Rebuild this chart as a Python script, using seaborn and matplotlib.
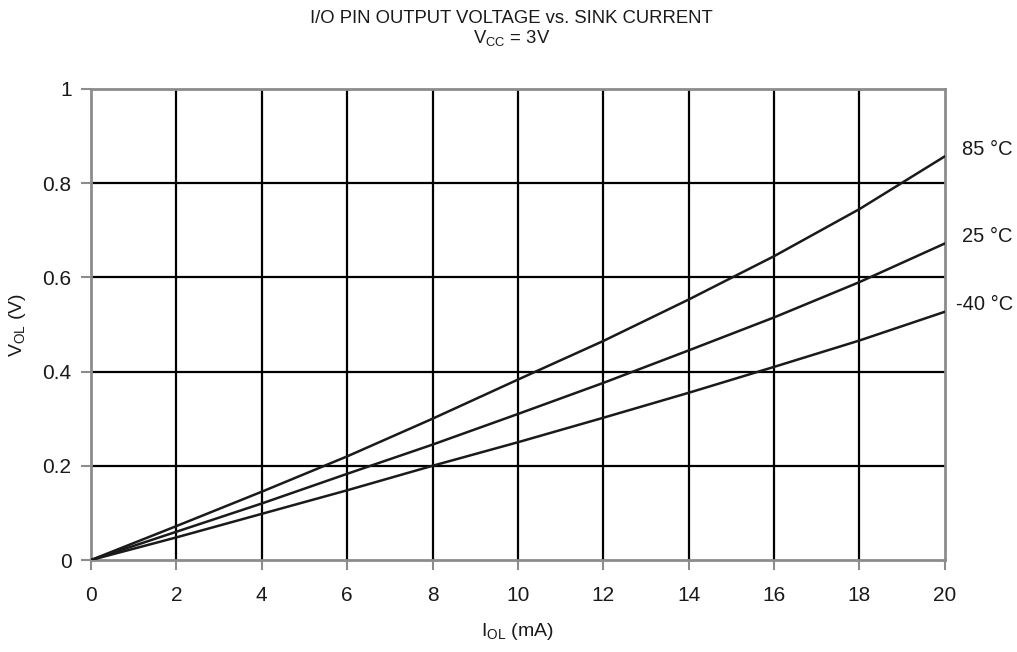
import numpy as np
import pandas as pd
import matplotlib
matplotlib.use('Agg')
import matplotlib.pyplot as plt
import seaborn as sns

# sink current (mA)
i_ol = [0, 2, 4, 6, 8, 10, 12, 14, 16, 18, 20]
# output voltage (V) per temperature
v_85 = [0, 0.072, 0.145, 0.220, 0.300, 0.383, 0.465, 0.553, 0.645, 0.745, 0.857]
v_25 = [0, 0.060, 0.120, 0.183, 0.245, 0.310, 0.376, 0.445, 0.515, 0.590, 0.672]
v_m40 = [0, 0.048, 0.098, 0.148, 0.200, 0.250, 0.302, 0.355, 0.410, 0.466, 0.527]
temps = ['85 °C', '25 °C', '-40 °C']

df = pd.DataFrame({
    'I': i_ol * 3,
    'V': v_85 + v_25 + v_m40,
    'T': sum([[t] * len(i_ol) for t in temps], []),
})

sns.set_style('white')
plt.rcParams['font.family'] = ['Liberation Sans', 'DejaVu Sans']

fig = plt.figure(figsize=(10.17, 6.52), dpi=100)
ax = fig.add_axes([0.0895, 0.1411, 0.8395, 0.7224])

for x in np.arange(2, 20, 2):
    ax.axvline(x, color='black', lw=1.6, zorder=1)
for y in np.arange(0.2, 1.0, 0.2):
    ax.axhline(y, color='black', lw=1.6, zorder=1)

sns.lineplot(data=df, x='I', y='V', hue='T', palette=['#1a1a1a'] * 3,
             lw=1.8, legend=False, ax=ax, zorder=3)

ax.set_xlim(0, 20)
ax.set_ylim(0, 1)
ax.set_xticks(np.arange(0, 21, 2))
ax.set_yticks([0, 0.2, 0.4, 0.6, 0.8, 1])
ax.set_yticklabels(['0', '0.2', '0.4', '0.6', '0.8', '1'])
for s in ax.spines.values():
    s.set_color('#8c8c8c')
    s.set_linewidth(2)
ax.tick_params(axis='both', direction='out', length=7, width=1.5, color='#8c8c8c',
               labelsize=15, labelcolor='#1a1a1a', bottom=True, left=True)
ax.tick_params(axis='x', pad=12)
ax.tick_params(axis='y', pad=7)

ax.set_xlabel('I$_{\\mathregular{OL}}$ (mA)', fontsize=14, color='#1a1a1a', labelpad=11)
ax.set_ylabel('V$_{\\mathregular{OL}}$ (V)', fontsize=14, color='#1a1a1a')
ax.yaxis.set_label_coords(-0.074, 0.5)

for t, v in zip(temps, [v_85, v_25, v_m40]):
    ax.annotate(t, xy=(20, v[-1]), xytext=(49, 5), textcoords='offset points',
                fontsize=14.5, color='#1a1a1a', va='center', ha='right')

fig.text(0.503, 0.972, 'I/O PIN OUTPUT VOLTAGE vs. SINK CURRENT', ha='center', va='center',
         fontsize=13.3, color='#1a1a1a')
fig.text(0.503, 0.941, 'V$_{\\mathregular{CC}}$ = 3V', ha='center', va='center',
         fontsize=13.3, color='#1a1a1a')

fig.savefig('out.png', dpi=100)
